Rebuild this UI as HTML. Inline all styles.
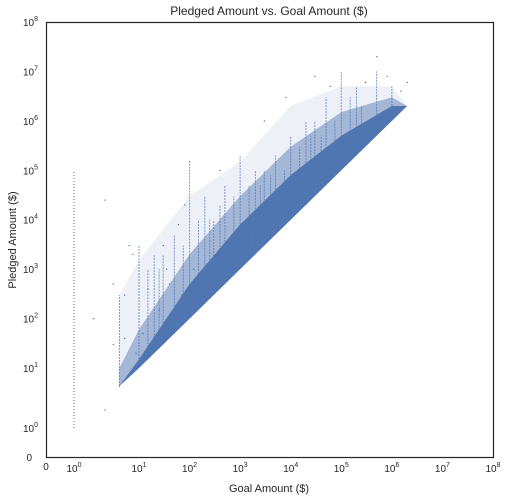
<!DOCTYPE html>
<html><head><meta charset="utf-8"><style>
body{margin:0;background:#fff;}
svg{display:block;font-family:"Liberation Sans",sans-serif;}
</style></head><body>
<svg id="chart" width="508" height="502" viewBox="0 0 508 502">
<rect x="0" y="0" width="508" height="502" fill="#fff"/>
<text x="269" y="15" text-anchor="middle" font-size="12" fill="#262626">Pledged Amount vs. Goal Amount ($)</text>
<text x="269" y="492" text-anchor="middle" font-size="11" fill="#262626">Goal Amount ($)</text>
<text transform="translate(16,240) rotate(-90)" text-anchor="middle" font-size="11" fill="#262626">Pledged Amount ($)</text>
<g id="marks"></g>
<g id="ticks"></g>
<rect x="46.5" y="22.5" width="447" height="435" fill="none" stroke="#262626" stroke-width="1.2"/>
</svg>
<script>
// envelope data (goal -> pledged)
const envGoals = [5, 10, 100, 1000, 10000, 100000, 1000000, 2000000];
const denseTop = [5, 15, 500, 8000, 80000, 500000, 2000000, 2000000];
const medTop = [10, 60, 2000, 30000, 300000, 1500000, 3000000, 2000000];
const sparseTop = [300, 1500, 30000, 150000, 2000000, 5000000, 5000000, 2000000];
// vertical streaks at round goal amounts
const streakGoals = [5, 10, 15, 20, 25, 30, 50, 75, 100, 150, 200, 250, 300, 400, 500, 750, 1000, 1500, 2000, 2500, 3000, 4000, 5000, 7500, 10000, 15000, 20000, 25000, 30000, 40000, 50000, 75000, 100000, 150000, 200000, 250000, 500000, 1000000];
const streakTops = [300, 3000, 1000, 2000, 1000, 2000, 5000, 3000, 150000, 10000, 30000, 10000, 10000, 20000, 50000, 30000, 200000, 50000, 100000, 50000, 100000, 80000, 200000, 100000, 500000, 300000, 1000000, 500000, 1000000, 500000, 3000000, 1000000, 10000000, 3000000, 5000000, 2000000, 10000000, 5000000];
// outlier points
const ptGoals = [3, 3, 4, 5, 6, 8, 12, 30, 40, 60, 80, 100, 120, 400, 700, 3000, 8000, 30000, 60000, 300000, 500000, 800000, 1500000, 2000000, 2, 7, 4, 6, 9, 15, 25, 35, 45, 70];
const ptPledged = [2, 25000, 500, 5, 40, 2000, 50, 3000, 500, 8000, 20000, 150000, 1000, 100000, 2000, 1000000, 3000000, 8000000, 5000000, 6000000, 20000000, 8000000, 4000000, 6000000, 100, 3000, 30, 300, 20, 400, 150, 1000, 60, 300];
// goal = 1 column
const oneGoalMin = 1, oneGoalMax = 100000;

const xTicks = [0,1,10,100,1e3,1e4,1e5,1e6,1e7,1e8];
const yTicks = [0,1,10,100,1e3,1e4,1e5,1e6,1e7,1e8];

function xs(v){ if(v<=0) return 46; const l=Math.log10(v); if(l<1) return 74+l*65; return 139+(l-1)*50.57; }
function ys(v){ if(v<=0) return 457; const l=Math.log10(v); if(l<1) return 428-l*60; return 368-(l-1)*49.43; }

const NS="http://www.w3.org/2000/svg";
const marks=document.getElementById('marks');
const C="#4c72b0";
function mk(tag,attrs,parent){const e=document.createElementNS(NS,tag);for(const k in attrs)e.setAttribute(k,attrs[k]);parent.appendChild(e);return e;}
function band(top,op){
  const p=[];
  envGoals.forEach((g,i)=>p.push(xs(g)+','+ys(top[i])));
  for(let i=envGoals.length-1;i>=0;i--) p.push(xs(envGoals[i])+','+ys(envGoals[i]));
  return mk('polygon',{points:p.join(' '),fill:C,'fill-opacity':op},marks);
}
const sp=band(sparseTop,0.1);


const md=band(medTop,0.45);


const dn=band(denseTop,0.95);


// streaks
streakGoals.forEach((g,i)=>{
  const l=mk('line',{x1:xs(g),x2:xs(g),y1:ys(g),y2:ys(streakTops[i]),stroke:C,'stroke-width':1,'stroke-opacity':0.7,'stroke-dasharray':'2,1'},marks);
  
  
});
// goal=1 column
const oc=mk('line',{x1:xs(1),x2:xs(1),y1:ys(oneGoalMin),y2:ys(oneGoalMax),stroke:C,'stroke-width':1,'stroke-dasharray':'1,2'},marks);


// points
ptGoals.forEach((g,i)=>{
  const r=mk('rect',{x:xs(g)-0.5,y:ys(ptPledged[i])-0.5,width:1.2,height:1.2,fill:C},marks);
  
  
});

const tg=document.getElementById('ticks');
function lab(v,x,y,anchor){
  const t=mk('text',{x:x,y:y,'text-anchor':anchor,'font-size':10,fill:'#262626'},tg);
  if(v===0){t.textContent='0';}
  else{const e=Math.round(Math.log10(v));
    const a=document.createElementNS(NS,'tspan');a.textContent='10';t.appendChild(a);
    const b=document.createElementNS(NS,'tspan');b.setAttribute('dy','-5');b.setAttribute('font-size','7');b.textContent=String(e);t.appendChild(b);}
  return t;
}
xTicks.forEach(v=>{
  const t=lab(v,xs(v),v===0?470:472,'middle');
  
  
});
yTicks.forEach(v=>{
  const t=lab(v,v===0?32:38,ys(v)+4,'end');
  
  
});
</script>
</body></html>
